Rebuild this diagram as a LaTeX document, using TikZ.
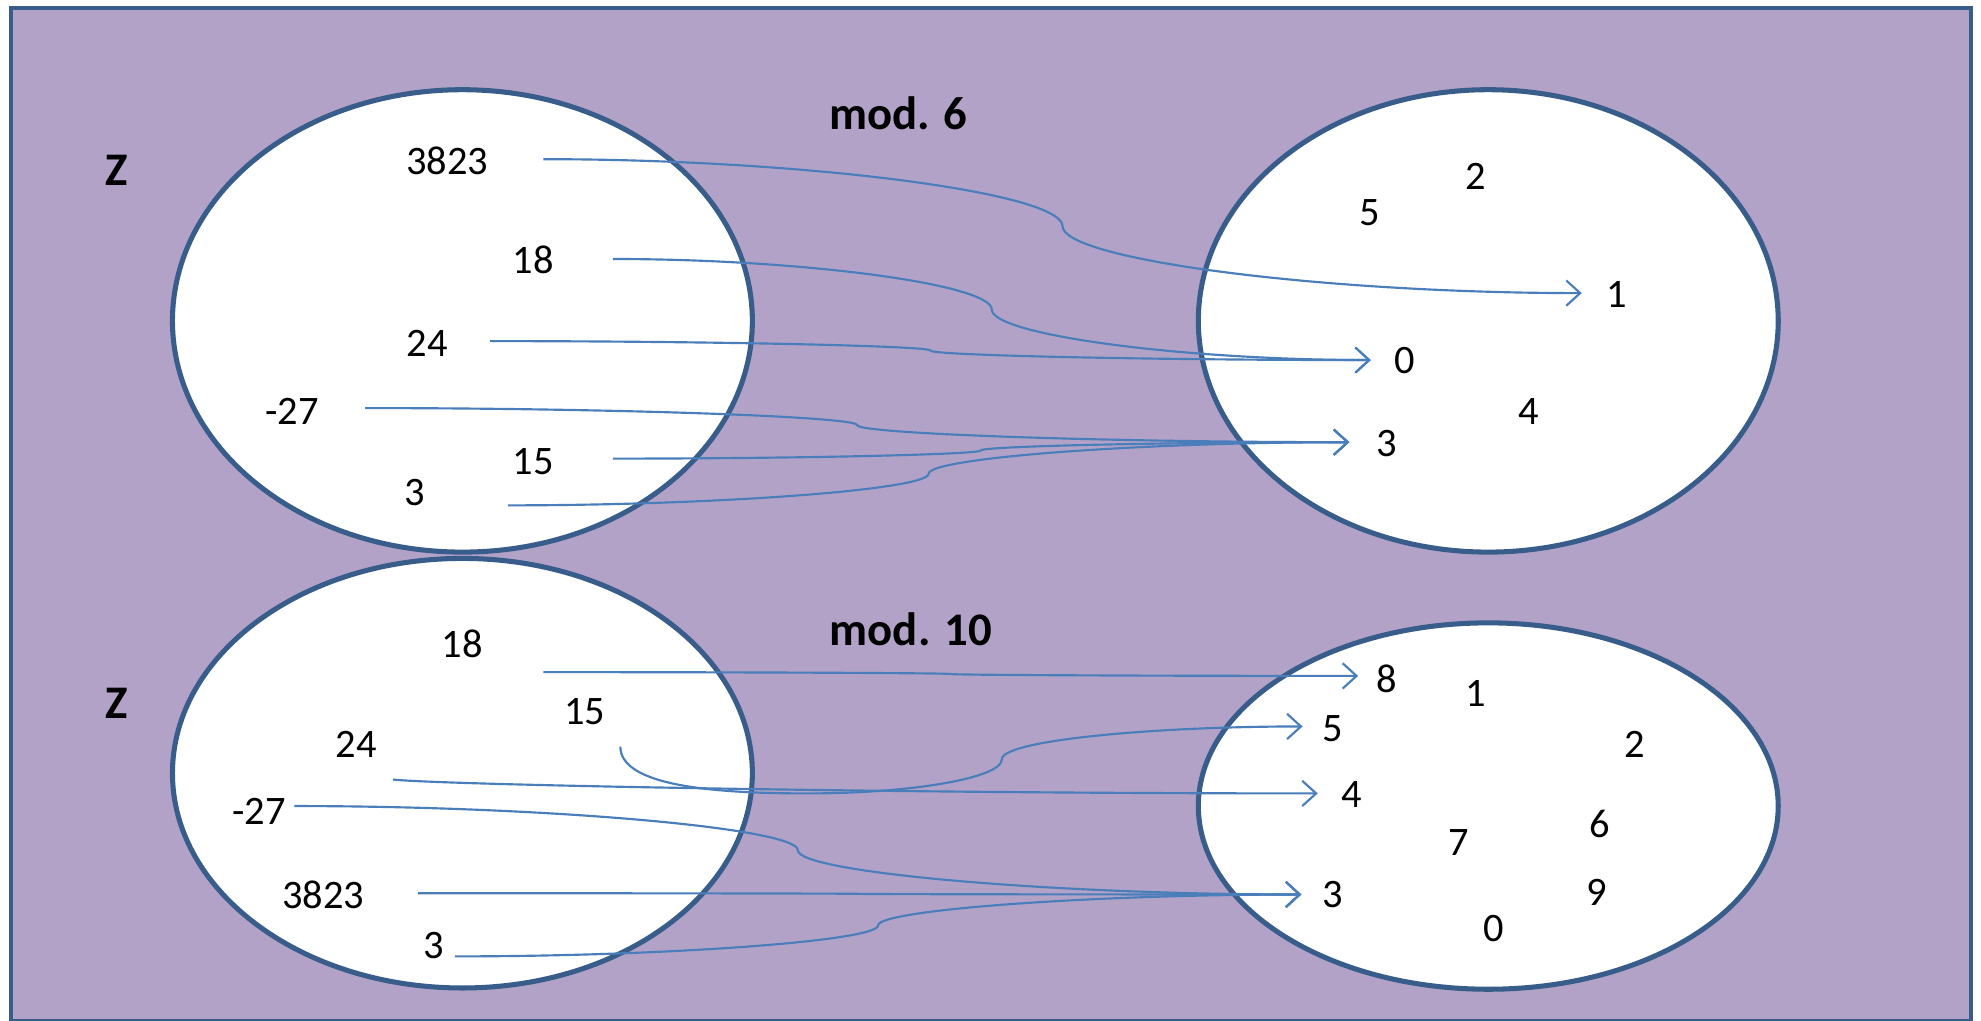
\documentclass[tikz,border=0pt]{standalone}
\usepackage{fontspec}
\setmainfont{Carlito}
\usetikzlibrary{calc,arrows.meta,shapes.geometric}
\definecolor{bgpurple}{HTML}{B3A2C7}
\definecolor{edgeblue}{HTML}{385D8A}
\definecolor{linkblue}{HTML}{4A7EBB}
\begin{document}
\begin{tikzpicture}[x=0.5pt,y=-0.5pt,
  setshape/.style={ellipse, draw=edgeblue, line width=2pt, fill=white, inner sep=0pt},
  num/.style={font=\fontsize{16}{19}\selectfont, inner sep=0pt, text=black},
  lbl/.style={font=\fontsize{18.5}{22}\selectfont\bfseries, inner sep=0pt, text=black},
  link/.style={draw=linkblue, line width=0.85pt, -{Straight Barb[length=5.5pt,width=10pt]}},
  conn/.style={to path={let \p1=(\tikztostart), \p2=(\tikztotarget), \n1={#1} in
    .. controls ({(\x1+(\x1+\n1*(\x2-\x1)))/2},\y1) and ({\x1+\n1*(\x2-\x1)},{(3*\y1+\y2)/4})
    .. ({\x1+\n1*(\x2-\x1)},{(\y1+\y2)/2})
    .. controls ({\x1+\n1*(\x2-\x1)},{(\y1+3*\y2)/4}) and ({(\x2+(\x1+\n1*(\x2-\x1)))/2},\y2)
    .. (\tikztotarget)}},
  conn/.default=0.5]
\useasboundingbox (0,0) rectangle (1568,808);
\fill[white] (0,0) rectangle (1568,808);
\draw[edgeblue, line width=1.6pt, fill=bgpurple] (9,6) rectangle (1560,808);

% sets
\node[setshape, minimum width=229.5pt, minimum height=183pt] (zA) at (366,254) {};
\node[setshape, minimum width=229.5pt, minimum height=183pt] (mA) at (1178,254) {};
\node[setshape, minimum width=229.5pt, minimum height=170pt] (zB) at (366,612) {};
\node[setshape, minimum width=229.5pt, minimum height=145pt] (mB) at (1178,638) {};

% labels
\node[lbl] (zlabA) at (92,135) {Z};
\node[lbl] (zlabB) at (92,557) {Z};
\node[lbl] (modA) at (711,90) {mod. 6};
\node[lbl] (modB) at (721,498) {mod. 10};

% top left numbers
\node[num] (a3823) at (354,127) {3823};
\node[num] (a18) at (422,206) {18};
\node[num] (a24) at (338,272) {24};
\node[num] (am27) at (231,326) {-27};
\node[num] (a15) at (422,365) {15};
\node[num] (a3) at (328,390) {3};
% top right residues
\node[num] (r2) at (1168,140) {2};
\node[num] (r5) at (1084,168) {5};
\node[num] (r1) at (1280,233) {1};
\node[num] (r0) at (1112,285) {0};
\node[num] (r4) at (1210,326) {4};
\node[num] (r3) at (1098,351) {3};

% bottom left numbers
\node[num] (b18) at (366,510) {18};
\node[num] (b15) at (463,563) {15};
\node[num] (b24) at (282,589) {24};
\node[num] (bm27) at (205,642) {-27};
\node[num] (b3823) at (256,708) {3823};
\node[num] (b3) at (343,748) {3};
% bottom right residues
\node[num] (q8) at (1098,537) {8};
\node[num] (q1) at (1168,549) {1};
\node[num] (q5) at (1055,577) {5};
\node[num] (q2) at (1294,589) {2};
\node[num] (q4) at (1070,629) {4};
\node[num] (q6) at (1266,652) {6};
\node[num] (q7) at (1155,667) {7};
\node[num] (q3) at (1055,708) {3};
\node[num] (q9) at (1264,706) {9};
\node[num] (q0) at (1182,735) {0};

% connector end points
\coordinate (s3823) at (430,126);
\coordinate (s18) at (485,205);
\coordinate (s24) at (388,270);
\coordinate (sm27) at (289,323);
\coordinate (s15) at (485,363);
\coordinate (s3) at (402,400);
\coordinate (t1) at (1252,232);
\coordinate (t0) at (1085,285);
\coordinate (t3) at (1068,350);

\coordinate (u18) at (430,532);
\coordinate (u15) at (491,591);
\coordinate (u24) at (311,617);
\coordinate (um27) at (233,638);
\coordinate (u3823) at (331,707);
\coordinate (u3) at (360,757);
\coordinate (v8) at (1075,535);
\coordinate (v5) at (1031,575);
\coordinate (v4) at (1043,628);
\coordinate (v3) at (1030,708);

% top connectors
\draw[link] (s3823) to[conn] (t1);
\draw[link] (s18) to[conn] (t0);
\draw[link] (s24) to[conn] (t0);
\draw[link] (sm27) to[conn] (t3);
\draw[link] (s15) to[conn] (t3);
\draw[link] (s3) to[conn] (t3);

% bottom connectors
\draw[link] (u18) to[conn] (v8);
\draw[link] (u15) .. controls (491,624) and (575,628) .. (640,628)
  .. controls (720,628) and (793,616) .. (793,601)
  .. controls (793,586) and (912,575) .. (v5);
\draw[link] (u24) .. controls (345,621) and (700,628) .. (v4);
\draw[link] (um27) to[conn] (v3);
\draw[link] (u3823) to[conn] (v3);
\draw[link] (u3) to[conn] (v3);
\end{tikzpicture}
\end{document}
